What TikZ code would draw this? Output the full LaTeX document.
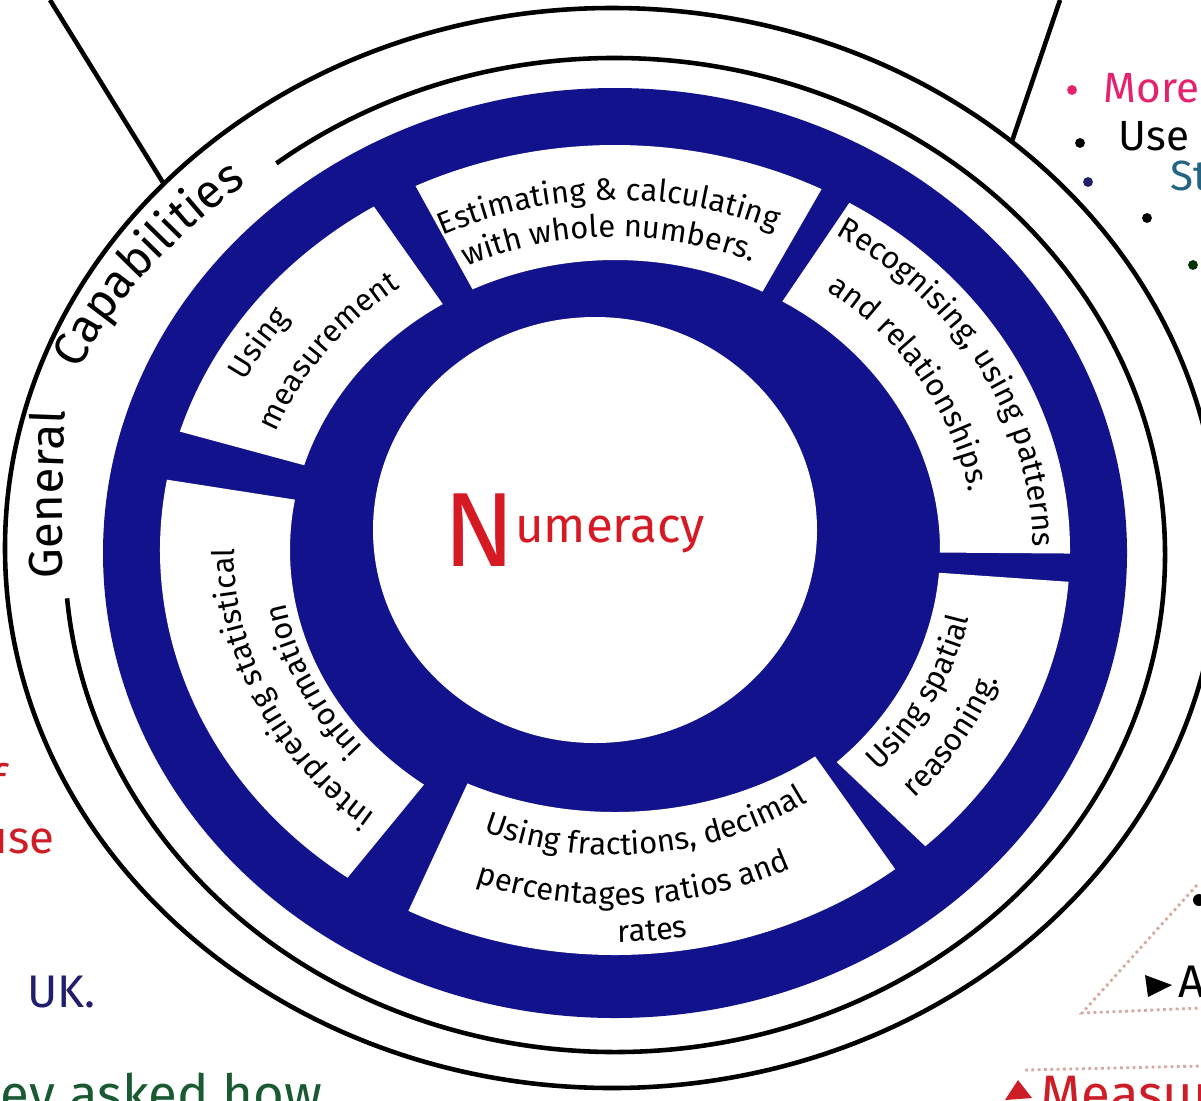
\documentclass[tikz,border=0pt]{standalone}
\usepackage{fontspec}
\setmainfont{Fira Sans}
\usetikzlibrary{decorations.text}
\definecolor{ringblue}{RGB}{18,18,140}
\definecolor{numred}{RGB}{214,26,36}
\definecolor{notered}{RGB}{205,30,40}
\definecolor{notepink}{RGB}{228,34,110}
\definecolor{noteteal}{RGB}{36,100,130}
\definecolor{notenavy}{RGB}{34,30,110}
\definecolor{notegreen}{RGB}{26,90,50}
\definecolor{guide}{RGB}{214,170,160}
\newcommand{\cardfont}{\fontsize{8.8}{11}\selectfont}
\newcommand{\capfont}{\fontsize{13.5}{16}\selectfont}
\newcommand{\card}[4]{\fill[white] (#1:455 and 405) arc[start angle=#1,end angle=#2,x radius=455,y radius=405] -- (#2:#3 and #4) arc[start angle=#2,end angle=#1,x radius=#3,y radius=#4] -- cycle;}
\newcommand{\arcline}[5]{\path[decorate,decoration={text along path,text align=center,text={|\cardfont|#5}}] (#1:#3 and #4) arc[start angle=#1,end angle=#2,x radius=#3,y radius=#4];}

\begin{document}
\begin{tikzpicture}[x=0.01cm,y=-0.01cm,
  ringline/.style={draw=black,line width=1.3pt},
  sidenote/.style={inner sep=0pt,font=\fontsize{12}{14}\selectfont},
  bulletdot/.style={circle,fill,inner sep=0pt,minimum size=2.8pt},
  guideline/.style={draw=guide,densely dotted,line width=0.8pt}]
\useasboundingbox (0,0) rectangle (1201,1100);
\clip (0,0) rectangle (1201,1100);
\fill[white] (0,0) rectangle (1201,1100);
% double line round the wheel
\begin{scope}[shift={(612,548)}]
\draw[ringline] (0,0) ellipse[x radius=607,y radius=540];
\coordinate (leftfoot) at (222.4:607 and 540);
\coordinate (rightfoot) at (311.2:607 and 540);
\end{scope}
\begin{scope}[shift={(615,555)}]
\draw[ringline] (232:550 and 497) arc[start angle=232,end angle=535,x radius=550,y radius=497];
\end{scope}
\coordinate (lefttop) at (50,0);
\coordinate (righttop) at (1060,0);
\draw[ringline] (lefttop) -- (leftfoot);
\draw[ringline] (righttop) -- (rightfoot);
% blue wheel, hub and cards
\fill[ringblue] (615,553) ellipse[x radius=512,y radius=465];
\fill[white] (595,530) ellipse[x radius=222,y radius=213];
\begin{scope}[shift={(615,550)}]
\card{244}{297}{325}{290}
\card{301}{360.5}{325}{290}
\card{4.5}{47}{325}{290}
\card{52}{117}{325}{262}
\card{126}{190}{325}{290}
\card{197}{238}{325}{290}
\end{scope}
\node[text=numred,font=\fontsize{14}{17}\selectfont] (numeracy) at (574,530) {\raisebox{-6.8pt}{\fontsize{30}{30}\selectfont N}umeracy};
% ring title
\path[decorate,decoration={text along path,text align=left,text={|\capfont|General}}] (63,578) -- (62,500) -- (66,392);
\path[decorate,decoration={text along path,text align=left,text={|\capfont|Capabilities}}] (78,370) -- (102,328) -- (137,282) -- (182,236) -- (230,195) -- (290,155);
% card texts
\begin{scope}[shift={(615,550)}]
\arcline{233}{305}{393}{350}{Estimating {\&} calculating}
\arcline{233}{305}{351}{313}{with whole numbers.}
\arcline{296}{366}{418}{371}{Recognising, using patterns}
\arcline{293}{364}{360}{321}{and relationships.}
\arcline{62}{-8}{362}{322}{Using spatial}
\arcline{66}{-4}{410}{365}{reasoning.}
\arcline{120}{48}{342}{305}{Using fractions, decimal}
\arcline{122}{52}{399}{355}{percentages ratios and}
\arcline{105}{65}{440}{392}{rates}
\arcline{120}{190}{381}{340}{interpreting statistical}
\arcline{120}{190}{335}{299}{information}
\arcline{190}{235}{416}{370}{Using}
\arcline{187}{247}{364}{325}{measurement}
\end{scope}
% cut-off notes round the edge
\node[bulletdot,notepink] (b1) at (1072,90) {};
\node[sidenote,text=notepink,anchor=base west] (more) at (1103,102) {More};
\node[bulletdot,black] (b2) at (1080,143) {};
\node[sidenote,anchor=base west] (use) at (1118,150) {Use};
\node[bulletdot,notenavy] (b3) at (1088,182) {};
\node[sidenote,text=noteteal,anchor=base west] (st) at (1170,190) {St};
\node[bulletdot,black] (b4) at (1147,218) {};
\node[bulletdot,black!80!green] (b5) at (1193,265) {};
\node[sidenote,text=notered,anchor=base east,font=\fontsize{13}{15}\selectfont] (f) at (8,797) {f};
\node[sidenote,text=notered,anchor=base east,font=\fontsize{13}{15}\selectfont] (use2) at (55,853) {use};
\node[sidenote,text=notenavy,anchor=base west,font=\fontsize{13}{15}\selectfont] (uk) at (27,1007) {UK.};
\node[sidenote,text=notegreen,anchor=base west,font=\fontsize{15}{17}\selectfont] (asked) at (0,1112) {ey asked how};
\coordinate (tri1) at (1197,885);
\coordinate (tri2) at (1082,1013);
\coordinate (tri3) at (1201,1008);
\draw[guideline] (tri1) -- (tri2) -- (tri3);
\fill (1199,900) circle[radius=6];
\fill (1145,975) -- (1172,985) -- (1148,997) -- cycle;
\node[sidenote,anchor=base west,font=\fontsize{13}{15}\selectfont] (a) at (1178,997) {A};
\coordinate (rule1) at (1025,1070);
\coordinate (rule2) at (1201,1066);
\draw[guideline] (rule1) -- (rule2);
\fill[notered] (1005,1100) -- (1018,1080) -- (1032,1098) -- cycle;
\node[sidenote,text=notered,anchor=base west,font=\fontsize{15}{17}\selectfont] (measure) at (1040,1112) {Measure};
\end{tikzpicture}
\end{document}
